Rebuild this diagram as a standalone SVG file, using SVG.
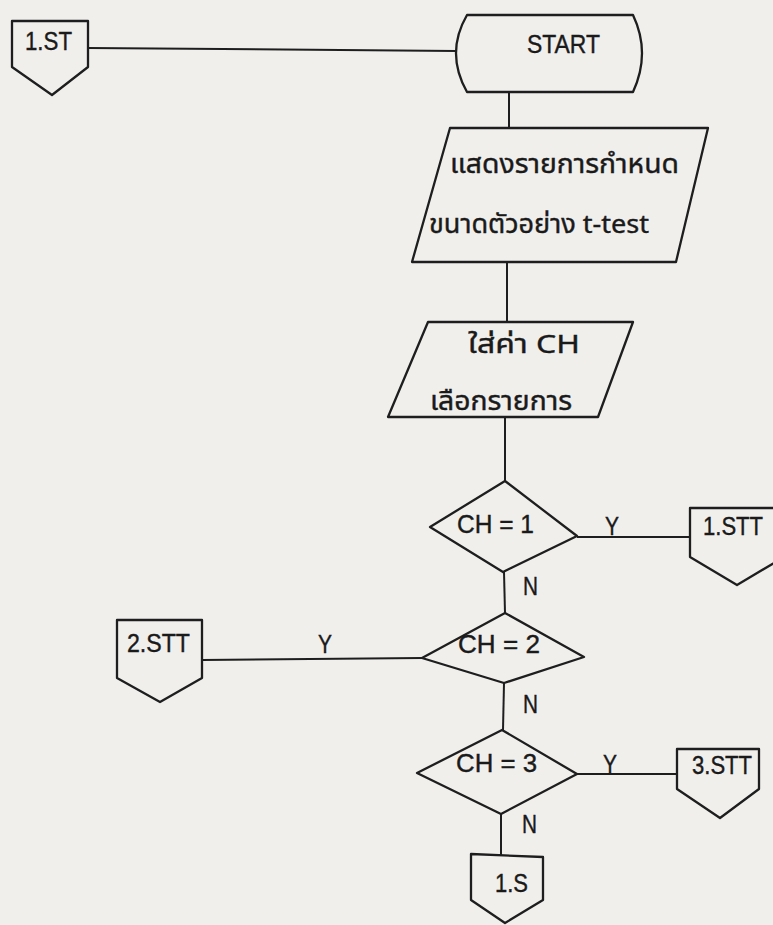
<svg xmlns="http://www.w3.org/2000/svg" width="773" height="925" viewBox="0 0 773 925">
<style>
  .shape { fill: none; stroke: #1e1e1e; stroke-width: 2.3; stroke-linejoin: round; }
  .conn line { stroke: #1e1e1e; stroke-width: 2; }
  text { fill: #1a1a1a; stroke: #1a1a1a; stroke-width: 0.4; font-family: "Liberation Sans", Arial, sans-serif; font-size: 26px; }
  .th { font-family: "Noto Sans Thai", "Noto Sans", "DejaVu Sans", "Liberation Sans", sans-serif; }
</style>
<rect x="0" y="0" width="773" height="925" fill="#f0efec"/>

<g id="connectors" class="conn">
  <line x1="88" y1="48" x2="456" y2="51"/>
  <line x1="509" y1="92" x2="509" y2="128"/>
  <line x1="507" y1="262" x2="507" y2="322"/>
  <line x1="505" y1="417" x2="505" y2="482"/>
  <line x1="577" y1="537" x2="690" y2="537"/>
  <line x1="504" y1="572" x2="505" y2="613"/>
  <line x1="422" y1="658" x2="202" y2="660"/>
  <line x1="504" y1="683" x2="503" y2="730"/>
  <line x1="577" y1="774" x2="677" y2="774"/>
  <line x1="501" y1="814" x2="501" y2="855"/>
  <text x="605" y="535" textLength="14" lengthAdjust="spacingAndGlyphs">Y</text>
  <text x="318" y="653" textLength="14" lengthAdjust="spacingAndGlyphs">Y</text>
  <text x="603" y="773" textLength="14" lengthAdjust="spacingAndGlyphs">Y</text>
  <text x="523" y="595" textLength="15" lengthAdjust="spacingAndGlyphs">N</text>
  <text x="523" y="713" textLength="15" lengthAdjust="spacingAndGlyphs">N</text>
  <text x="522" y="833" textLength="15" lengthAdjust="spacingAndGlyphs">N</text>
</g>

<g id="node-1ST">
  <path class="shape" d="M12,21 H88 V67 L52,95 L12,67 Z"/>
  <text x="25" y="50" textLength="47" lengthAdjust="spacingAndGlyphs">1.ST</text>
</g>

<g id="node-start">
  <path class="shape" d="M467,15 H633 Q651,53 633,92 H467 Q445,53 467,15 Z"/>
  <text x="527" y="53" textLength="73" lengthAdjust="spacingAndGlyphs">START</text>
</g>

<g id="node-display">
  <path class="shape" d="M450,128 L708,128 L676,262 L412,262 Z"/>
  <text class="th" x="450" y="173" font-size="32" textLength="229" lengthAdjust="spacingAndGlyphs">แสดงรายการกำหนด</text>
  <text class="th" x="429" y="233" font-size="31" textLength="220" lengthAdjust="spacingAndGlyphs">ขนาดตัวอย่าง t-test</text>
</g>

<g id="node-input">
  <path class="shape" d="M428,322 L633,322 L598,417 L388,417 Z"/>
  <text class="th" x="468" y="353" font-size="23" textLength="112" lengthAdjust="spacingAndGlyphs">ใส่ค่า  CH</text>
  <text class="th" x="430" y="410" font-size="25" textLength="142" lengthAdjust="spacingAndGlyphs">เลือกรายการ</text>
</g>

<g id="node-ch1">
  <path class="shape" d="M505,481 L577,536 L503,572 L430,527 Z"/>
  <text x="457" y="533" textLength="77" lengthAdjust="spacingAndGlyphs">CH = 1</text>
</g>

<g id="node-1STT">
  <path class="shape" d="M690,508 H784 V557 L737,585 L690,557 Z"/>
  <text x="703" y="535" textLength="60" lengthAdjust="spacingAndGlyphs">1.STT</text>
</g>

<g id="node-ch2">
  <path class="shape" d="M505,613 L584,657 L504,683 L422,658 Z"/>
  <text x="458" y="653" textLength="82" lengthAdjust="spacingAndGlyphs">CH = 2</text>
</g>

<g id="node-2STT">
  <path class="shape" d="M117,620 H202 V678 L160,702 L117,678 Z"/>
  <text x="127" y="652" textLength="63" lengthAdjust="spacingAndGlyphs">2.STT</text>
</g>

<g id="node-ch3">
  <path class="shape" d="M502,730 L577,774 L501,814 L417,773 Z"/>
  <text x="456" y="772" textLength="81" lengthAdjust="spacingAndGlyphs">CH = 3</text>
</g>

<g id="node-3STT">
  <path class="shape" d="M677,749 H759 V789 L720,818 L677,789 Z"/>
  <text x="692" y="774" textLength="60" lengthAdjust="spacingAndGlyphs">3.STT</text>
</g>

<g id="node-1S">
  <path class="shape" d="M471,854 L543,857 V900 L505,923 L471,900 Z"/>
  <text x="495" y="892" textLength="33" lengthAdjust="spacingAndGlyphs">1.S</text>
</g>
</svg>
